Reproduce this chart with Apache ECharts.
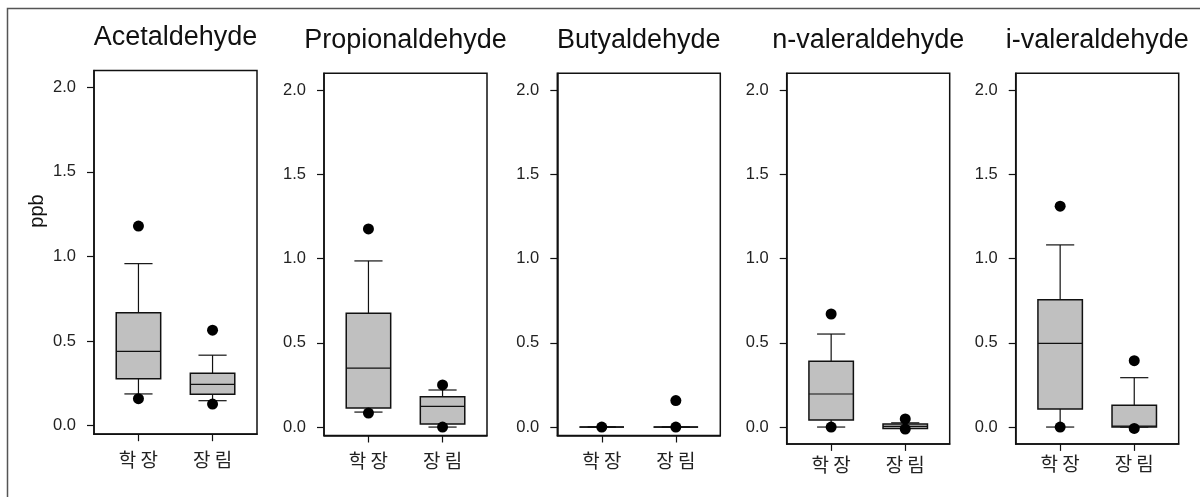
<!DOCTYPE html>
<html>
<head>
<meta charset="utf-8">
<title>Aldehyde concentrations</title>
<script src="https://cdn.jsdelivr.net/npm/echarts@6/dist/echarts.min.js"></script>
<style>
  html, body { margin: 0; padding: 0; background: #fff; }
  #chart { width: 1200px; height: 497px; }
</style>
</head>
<body>
<div id="chart"></div>
<script>
// Compounds (one panel each) and sampling sites (x categories)
const compounds = ['Acetaldehyde', 'Propionaldehyde', 'Butyaldehyde', 'n-valeraldehyde', 'i-valeraldehyde'];
const sites = ['학 장', '장 림'];
const yTickValues = [0.0, 0.5, 1.0, 1.5, 2.0];

// Box statistics per site: [lower whisker, Q1, median, Q3, upper whisker] (ppb)
const acetaldehydeStats    = [[0.188, 0.277, 0.439, 0.668, 0.958], [0.148, 0.186, 0.245, 0.310, 0.417]];
const propionaldehydeStats = [[0.089, 0.113, 0.350, 0.675, 0.986], [0.000, 0.018, 0.123, 0.180, 0.220]];
const butyaldehydeStats    = [[0.000, 0.000, 0.000, 0.000, 0.000], [0.000, 0.000, 0.000, 0.000, 0.000]];
const nValeraldehydeStats  = [[0.000, 0.042, 0.196, 0.390, 0.552], [-0.008, -0.008, 0.004, 0.018, 0.025]];
const iValeraldehydeStats  = [[0.000, 0.107, 0.497, 0.756, 1.081], [0.000, 0.000, 0.005, 0.129, 0.293]];

// Outlying points per site (ppb)
const acetaldehydeOutliers    = [[1.180, 0.160], [0.565, 0.128]];
const propionaldehydeOutliers = [[1.176, 0.083], [0.250, 0.000]];
const butyaldehydeOutliers    = [[0.000], [0.157, 0.000]];
const nValeraldehydeOutliers  = [[0.671, 0.000], [0.048, -0.012]];
const iValeraldehydeOutliers  = [[1.311, 0.000], [0.394, -0.008]];

const allStats = [acetaldehydeStats, propionaldehydeStats, butyaldehydeStats, nValeraldehydeStats, iValeraldehydeStats];
const allOutliers = [acetaldehydeOutliers, propionaldehydeOutliers, butyaldehydeOutliers, nValeraldehydeOutliers, iValeraldehydeOutliers];

// Panel frames
const panels = [
  { left: 94,    top: 70.4, height: 363.8, yMin: -0.05, xLabelMargin: 16 },
  { left: 324,   top: 73.2, height: 362.3, yMin: -0.05, xLabelMargin: 16 },
  { left: 557.3, top: 73.2, height: 362.3, yMin: -0.05, xLabelMargin: 16 },
  { left: 786.7, top: 73.2, height: 370.7, yMin: -0.10, xLabelMargin: 11 },
  { left: 1015.7,top: 73.2, height: 370.7, yMin: -0.10, xLabelMargin: 10 }
];
const PANEL_WIDTH = 163;
const BOX_WIDTH = 0.6;   // in x-axis units
const CAP_WIDTH = 0.38;

const latin = "'Liberation Sans', Arial, sans-serif";
const hangul = "'Noto Sans CJK KR', 'Noto Sans', sans-serif";
const ink = '#111';

function renderBox(params, api) {
  const x = api.value(0);
  const pLo = api.coord([x, api.value(1)]);
  const pQ1 = api.coord([x, api.value(2)]);
  const pMed = api.coord([x, api.value(3)]);
  const pQ3 = api.coord([x, api.value(4)]);
  const pHi = api.coord([x, api.value(5)]);
  const halfBox = api.size([BOX_WIDTH, 0])[0] / 2;
  const halfCap = api.size([CAP_WIDTH, 0])[0] / 2;
  const cx = pLo[0];
  const line = (x1, y1, x2, y2, w) => ({
    type: 'line',
    shape: { x1, y1, x2, y2 },
    style: { stroke: ink, lineWidth: w }
  });
  return {
    type: 'group',
    children: [
      line(cx, pQ3[1], cx, pHi[1], 1.2),
      line(cx - halfCap, pHi[1], cx + halfCap, pHi[1], 1.2),
      line(cx, pQ1[1], cx, pLo[1], 1.2),
      line(cx - halfCap, pLo[1], cx + halfCap, pLo[1], 1.2),
      {
        type: 'rect',
        shape: { x: cx - halfBox, y: pQ3[1], width: halfBox * 2, height: pQ1[1] - pQ3[1] },
        style: { fill: '#c0c0c0', stroke: ink, lineWidth: 1.5 }
      },
      line(cx - halfBox, pMed[1], cx + halfBox, pMed[1], 1.2)
    ]
  };
}

const grid = [], xAxis = [], yAxis = [], series = [], graphic = [];

panels.forEach((p, i) => {
  grid.push({
    left: p.left, top: p.top, width: PANEL_WIDTH, height: p.height,
    show: true, borderColor: ink, borderWidth: 1.5, backgroundColor: 'transparent'
  });
  xAxis.push({
    type: 'value', gridIndex: i, min: 0.4, max: 2.6,
    splitLine: { show: false },
    axisLine: { show: true, onZero: false, lineStyle: { color: ink, width: 1.5 } },
    axisTick: { show: true, length: 7, customValues: [1, 2], lineStyle: { color: ink, width: 1.2 } },
    axisLabel: {
      customValues: [1, 2], margin: p.xLabelMargin,
      formatter: v => sites[Math.round(v) - 1] || '',
      fontFamily: hangul, fontSize: 19, color: '#222'
    }
  });
  yAxis.push({
    type: 'value', gridIndex: i, min: p.yMin, max: 2.1,
    splitLine: { show: false },
    axisLine: { show: true, onZero: false, lineStyle: { color: ink, width: 1.5 } },
    axisTick: { show: true, length: 7, customValues: yTickValues, lineStyle: { color: ink, width: 1.2 } },
    axisLabel: {
      customValues: yTickValues, margin: 18,
      formatter: v => v.toFixed(1),
      fontFamily: latin, fontSize: 16.5, color: '#222'
    }
  });

  series.push({
    type: 'custom', xAxisIndex: i, yAxisIndex: i,
    renderItem: renderBox,
    encode: { x: 0, y: [1, 2, 3, 4, 5] },
    data: allStats[i].map((s, k) => [k + 1].concat(s)),
    z: 2
  });

  const pts = [];
  allOutliers[i].forEach((vals, k) => vals.forEach(v => pts.push([k + 1, v])));
  series.push({
    type: 'scatter', xAxisIndex: i, yAxisIndex: i,
    symbol: 'circle', symbolSize: 11,
    itemStyle: { color: '#000', opacity: 1 },
    data: pts, z: 3
  });

  graphic.push({
    type: 'text',
    x: p.left + PANEL_WIDTH / 2, y: p.top - 33,
    style: { text: compounds[i], font: '27px ' + latin, fill: ink, align: 'center', verticalAlign: 'middle' }
  });
});

// y-axis title
graphic.push({
  type: 'text', x: 37, y: 211, rotation: Math.PI / 2,
  style: { text: 'ppb', font: '20px ' + latin, fill: ink, align: 'center', verticalAlign: 'middle' }
});
// outer frame (left and top edges)
graphic.push({
  type: 'polyline',
  shape: { points: [[7.5, 497], [7.5, 8.5], [1200, 8.5]] },
  style: { stroke: '#555', lineWidth: 1.5, fill: null }
});

const chart = echarts.init(document.getElementById('chart'), null, { renderer: 'canvas' });
chart.setOption({
  backgroundColor: '#fff',
  animation: false,
  grid, xAxis, yAxis, series, graphic
});
</script>
</body>
</html>
